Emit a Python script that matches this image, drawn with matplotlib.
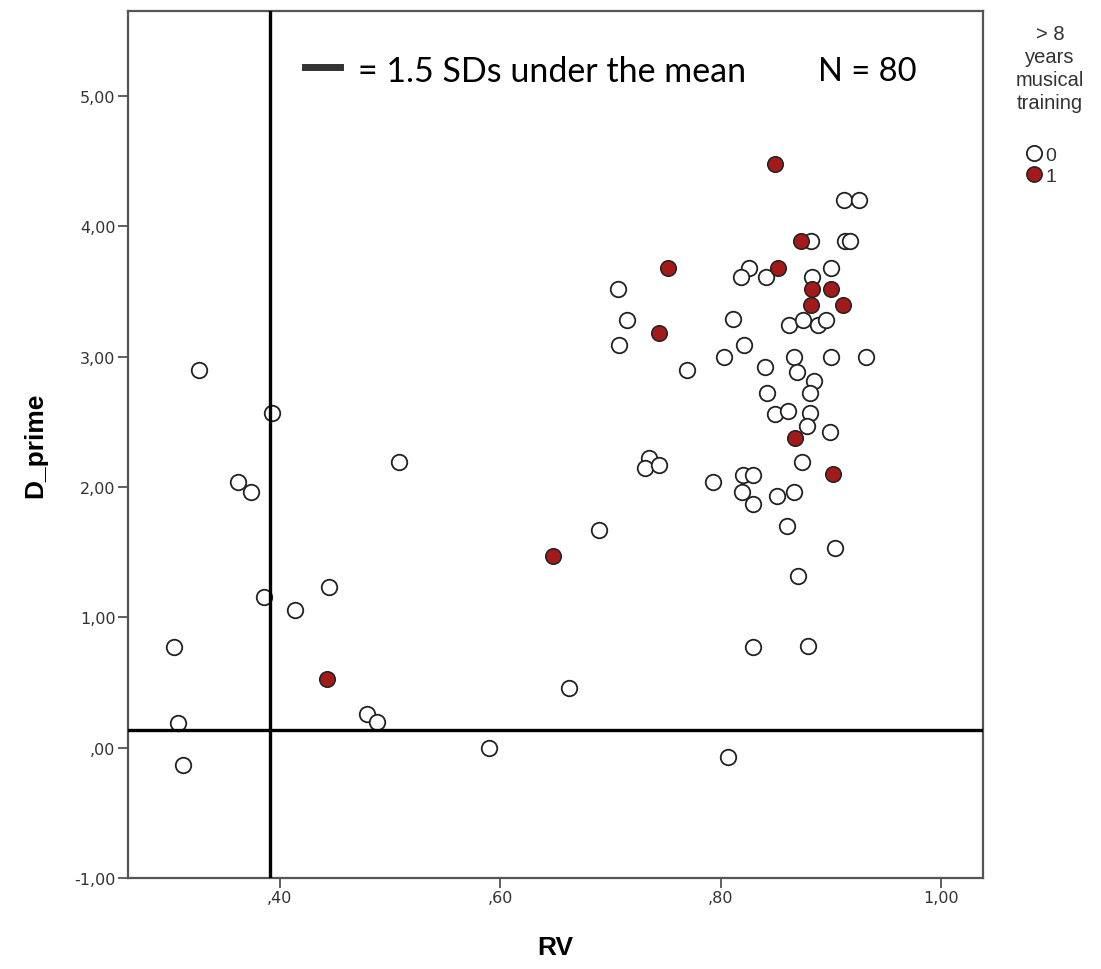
import matplotlib.pyplot as plt
from matplotlib.lines import Line2D

# RV / D_prime values, split by >8 years musical training
rv_0 = [0.327, 0.393, 0.508, 0.362, 0.374, 0.445, 0.386, 0.414, 0.304, 0.479,
        0.488, 0.308, 0.312, 0.735, 0.731, 0.744, 0.690, 0.662, 0.590, 0.707,
        0.715, 0.708, 0.769, 0.826, 0.818, 0.841, 0.811, 0.821, 0.803, 0.840,
        0.842, 0.912, 0.925, 0.882, 0.913, 0.917, 0.900, 0.883, 0.862, 0.875,
        0.888, 0.895, 0.866, 0.900, 0.932, 0.869, 0.885, 0.881, 0.849, 0.861,
        0.881, 0.878, 0.899, 0.874, 0.793, 0.820, 0.829, 0.819, 0.829, 0.851,
        0.866, 0.860, 0.904, 0.870, 0.829, 0.879, 0.807]
dp_0 = [2.90, 2.57, 2.19, 2.04, 1.96, 1.23, 1.16, 1.06, 0.77, 0.26,
        0.20, 0.19, -0.13, 2.22, 2.15, 2.17, 1.67, 0.455, 0.00, 3.52,
        3.28, 3.09, 2.90, 3.68, 3.61, 3.61, 3.29, 3.09, 3.00, 2.92,
        2.72, 4.20, 4.20, 3.89, 3.89, 3.89, 3.68, 3.61, 3.24, 3.28,
        3.24, 3.28, 3.00, 3.00, 3.00, 2.88, 2.81, 2.72, 2.56, 2.58,
        2.57, 2.47, 2.42, 2.19, 2.04, 2.09, 2.09, 1.96, 1.87, 1.93,
        1.96, 1.70, 1.53, 1.32, 0.77, 0.78, -0.07]

rv_1 = [0.443, 0.648, 0.752, 0.744, 0.849, 0.873, 0.852, 0.883, 0.900, 0.882,
        0.911, 0.867, 0.902]
dp_1 = [0.53, 1.47, 3.68, 3.18, 4.48, 3.89, 3.68, 3.52, 3.52, 3.40,
        3.40, 2.38, 2.10]

# cut-offs: 1.5 SDs under the mean
rv_cut = 0.391
dp_cut = 0.135

x_ticks = [0.40, 0.60, 0.80, 1.00]
x_labels = [',40', ',60', ',80', '1,00']
y_ticks = [-1, 0, 1, 2, 3, 4, 5]
y_labels = ['-1,00', ',00', '1,00', '2,00', '3,00', '4,00', '5,00']

red = '#a31a1a'
edge = '#222222'

fig = plt.figure(figsize=(11.01, 9.70), dpi=100)
ax = fig.add_axes([128 / 1101, 91 / 970, 855 / 1101, 867 / 970])

ax.scatter(rv_0, dp_0, s=125, facecolors='white', edgecolors=edge,
           linewidths=1.3, zorder=2)
ax.scatter(rv_1, dp_1, s=125, facecolors=red, edgecolors=edge,
           linewidths=1.1, zorder=2)

ax.axvline(rv_cut, color='black', linewidth=2.4, zorder=3)
ax.axhline(dp_cut, color='black', linewidth=2.4, zorder=3)

ax.set_xlim(0.2625, 1.0378)
ax.set_ylim(-1.0, 5.653)
ax.set_xticks(x_ticks)
ax.set_xticklabels(x_labels)
ax.set_yticks(y_ticks)
ax.set_yticklabels(y_labels)
ax.tick_params(length=7, width=1.2, color='#444444', labelsize=11.5,
               labelcolor='#333333', pad=2)

for sp in ax.spines.values():
    sp.set_color('#555555')
    sp.set_linewidth(1.6)

narrow = ['Liberation Sans Narrow', 'Liberation Sans']
ax.set_xlabel('RV', fontsize=19, fontweight='bold', family=narrow, labelpad=21)
ax.set_ylabel('D_prime', fontsize=19, fontweight='bold', family=narrow, labelpad=19)

# annotation at the top of the plot
fig.add_artist(Line2D([305 / 1101, 340 / 1101], [1 - 68 / 970, 1 - 68 / 970],
                      color='#333333', linewidth=5))
fig.text(358 / 1101, 1 - 72 / 970, '= 1.5 SDs under the mean', fontsize=24.5,
         family='Lato', va='center', ha='left', color='black')
fig.text(818 / 1101, 1 - 72 / 970, 'N = 80', fontsize=23.5,
         family='Lato', va='center', ha='left', color='black')

# group legend on the right
fig.text(1050 / 1101, 1 - 25 / 970, '> 8\nyears\nmusical\ntraining',
         fontsize=14.5, ha='center', va='top', linespacing=1.27,
         family='Liberation Sans', color='#333333')
handles = [Line2D([], [], marker='o', linestyle='none', markersize=11,
                  markerfacecolor='white', markeredgecolor=edge, markeredgewidth=1.3),
           Line2D([], [], marker='o', linestyle='none', markersize=11,
                  markerfacecolor=red, markeredgecolor=edge, markeredgewidth=1.1)]
leg = fig.legend(handles, ['0', '1'], loc='upper left',
                 bbox_to_anchor=(1024 / 1101, 1 - 147 / 970), frameon=False,
                 prop={'family': 'Liberation Sans', 'size': 14},
                 handletextpad=0.1, handlelength=1.0, labelspacing=0.2,
                 borderpad=0, borderaxespad=0)
for t in leg.get_texts():
    t.set_color('#333333')

fig.savefig('out.png', dpi=100)
